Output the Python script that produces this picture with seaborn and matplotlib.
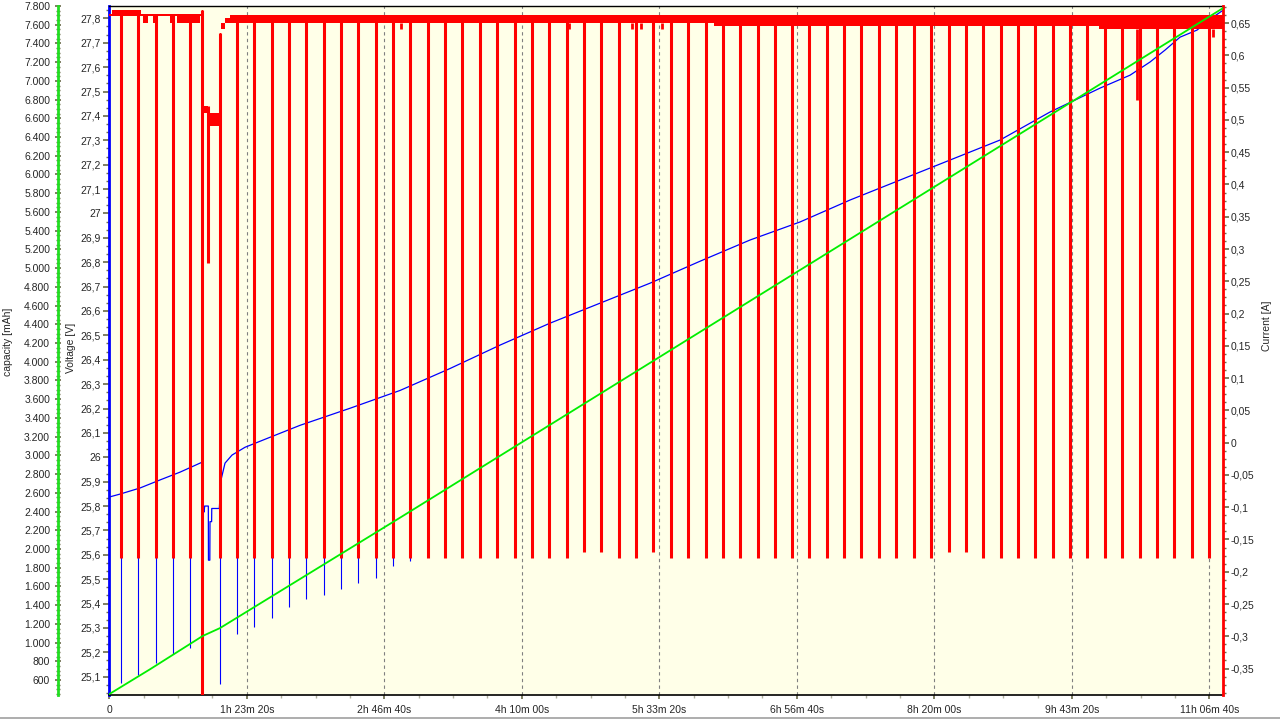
import matplotlib
matplotlib.use("Agg")
import matplotlib.pyplot as plt
import matplotlib.ticker as mticker
from matplotlib.lines import Line2D
import numpy as np
import seaborn as sns

# --- data (time in seconds) ---

# voltage curve [V]
volt_t = [0, 389, 1116, 1843, 2571, 3298, 3381, 3389, 3430, 3440, 3470, 3600,
          3605, 3655, 3661, 3720, 3725, 4000, 4061, 4207, 4461, 4934, 5843,
          6934, 8752, 10570, 12388, 14206, 16025, 17843, 19661, 21479, 23297,
          25115, 26933, 28751, 30569, 32387, 34205, 36023, 37114, 37841,
          38387, 38932, 39550, 40132, 40505]
volt_v = [25.837, 25.849, 25.874, 25.907, 25.939, 25.976, 25.980, 25.800,
          25.800, 25.775, 25.800, 25.800, 25.578, 25.578, 25.736, 25.736,
          25.790, 25.790, 25.907, 25.976, 26.009, 26.041, 26.082, 26.131,
          26.201, 26.274, 26.364, 26.460, 26.550, 26.632, 26.714, 26.804,
          26.891, 26.965, 27.055, 27.137, 27.219, 27.301, 27.416, 27.514,
          27.567, 27.621, 27.670, 27.723, 27.752, 27.805, 27.834]

# voltage drops during the early pulses [V]
vdip_t = [425, 1044, 1680, 2316, 2934, 4025, 4643, 5261, 5915, 6534, 7152,
          7806, 8424, 9043, 9697, 10305, 10934]
vdip_v = [25.075, 25.108, 25.157, 25.194, 25.218, 25.071, 25.276, 25.305,
          25.341, 25.387, 25.417, 25.435, 25.459, 25.485, 25.506, 25.554,
          25.576]

# charge current band [A] (steps)
band_t = [0, 100, 1150, 1230, 1410, 1590, 1770, 2210, 2320, 2460, 3300, 3370,
          3390, 3590, 4010, 4060, 4210, 4390, 22000, 36000, 40505]
band_lo = [0.661, 0.661, 0.661, 0.650, 0.661, 0.650, 0.661, 0.650, 0.661,
           0.650, 0.661, 0.661, 0.511, 0.490, 0.615, 0.641, 0.650, 0.650,
           0.646, 0.641, 0.641]
band_hi = [0.664, 0.671, 0.664, 0.664, 0.664, 0.664, 0.664, 0.664, 0.664,
           0.664, 0.664, 0.671, 0.522, 0.511, 0.635, 0.650, 0.658, 0.663,
           0.663, 0.663, 0.663]

# current pulses [A]
pulse_t = [425, 1044, 1680, 2316, 2934, 3382, 3578, 4025, 4643, 5261, 5915,
           6534, 7152, 7806, 8424, 9043, 9697, 10305, 10934, 11589, 12207,
           12835, 13468, 14097, 14741, 15359, 15988, 16631, 17249, 17867,
           18522, 19151, 19780, 20424, 21042, 21685, 22303, 22921, 23576,
           24194, 24823, 25452, 26085, 26703, 27343, 27975, 28615, 29259,
           29877, 30521, 31150, 31768, 32412, 33030, 33659, 34302, 34931,
           35549, 36193, 36822, 37465, 38083, 38712, 39366, 39974]
pulse_i = [-0.179, -0.179, -0.179, -0.179, -0.179, -0.45, 0.279, -0.179,
           -0.179, -0.179, -0.179, -0.179, -0.179, -0.179, -0.179, -0.179,
           -0.179, -0.179, -0.179, -0.179, -0.179, -0.179, -0.179, -0.179,
           -0.179, -0.179, -0.179, -0.179, -0.170, -0.170, -0.179, -0.179,
           -0.170, -0.179, -0.179, -0.179, -0.179, -0.179, -0.179, -0.179,
           -0.179, -0.179, -0.179, -0.179, -0.179, -0.179, -0.179, -0.179,
           -0.179, -0.170, -0.170, -0.179, -0.179, -0.179, -0.179, -0.179,
           -0.179, -0.179, -0.179, -0.179, -0.179, -0.179, -0.179, -0.179,
           -0.179]

# small current dips [A]
dip_t = [10600, 15970, 16700, 18520, 18990, 19160, 19350, 20100, 37370, 40140]
dip_i = [0.641, 0.641, 0.641, 0.641, 0.641, 0.641, 0.641, 0.641, 0.531, 0.629]

# capacity [mAh]
cap_t = [0, 1480, 3390, 4025, 10570, 40505]
cap_v = [450, 715, 1070, 1155, 2334, 7779]

x_ticks = [0, 5000, 10000, 15000, 20000, 25000, 30000, 35000, 40000]
x_labels = ["0", "1h 23m 20s", "2h 46m 40s", "4h 10m 00s", "5h 33m 20s",
            "6h 56m 40s", "8h 20m 00s", "9h 43m 20s", "11h 06m 40s"]
volt_ticks = np.round(np.arange(25.1, 27.85, 0.1), 1)
cur_ticks = np.round(np.arange(-0.35, 0.66, 0.05), 2)
cap_ticks = np.arange(600, 7801, 200)

# --- figure ---
sns.set_theme(style="white")
plt.rcParams["font.family"] = ["Liberation Sans", "DejaVu Sans"]

BLUE = "#0000FF"
RED = "#FF0000"
GREEN = "#22DD22"
TICKC = "#707050"

fig = plt.figure(figsize=(12.8, 7.2), dpi=100, facecolor="white")
ax = fig.add_axes([0.0854, 0.0347, 0.8703, 0.9574])
ax.set_facecolor("#FFFFE8")
ax.set_xlim(0, 40505)
ax.set_ylim(25.025, 27.852)

ax_cur = ax.twinx()
ax_cur.set_ylim(-0.391, 0.677)
ax_cap = ax.twinx()
ax_cap.set_ylim(440, 7803)

# grid
ax.xaxis.grid(True, linestyle=(0, (3, 3)), color="#808080", linewidth=0.8)
ax.yaxis.grid(False)
ax_cur.grid(False)
ax_cap.grid(False)

# voltage
sns.lineplot(x=volt_t, y=volt_v, ax=ax, color=BLUE, linewidth=0.9,
             sort=False, estimator=None)
ax.vlines(vdip_t, vdip_v, np.interp(vdip_t, volt_t, volt_v),
          color=BLUE, linewidth=0.8)

# current
ax_cur.fill_between(band_t, band_lo, band_hi, step="post", color=RED,
                    linewidth=0)
idx = np.searchsorted(band_t, pulse_t, side="right") - 1
pulse_top = np.array(band_hi)[idx]
ax_cur.vlines(pulse_t, pulse_i, pulse_top, color=RED, linewidth=2.2)
idx = np.searchsorted(band_t, dip_t, side="right") - 1
ax_cur.vlines(dip_t, dip_i, np.array(band_lo)[idx], color=RED, linewidth=2.0)

# capacity
sns.lineplot(x=cap_t, y=cap_v, ax=ax_cap, color="#00EE00", linewidth=1.3,
             sort=False, estimator=None)

# x axis
ax.xaxis.set_major_locator(mticker.FixedLocator(x_ticks))
ax.xaxis.set_major_formatter(mticker.FixedFormatter(x_labels))
ax.xaxis.set_minor_locator(mticker.AutoMinorLocator(4))
ax.tick_params(axis="x", which="major", direction="out", length=3,
               color=TICKC, pad=4, labelsize=7.5, bottom=True)
ax.tick_params(axis="x", which="minor", direction="out", length=2,
               color="#B0B0A0", bottom=True)
ax.set_xlabel("")


def fmt_comma(v, _pos=None):
    s = f"{v:.2f}".rstrip("0").rstrip(".")
    if s in ("-0", "-0."):
        s = "0"
    return s.replace(".", ",")


def fmt_cap(v, _pos=None):
    return f"{v:,.0f}".replace(",", ".")


# voltage axis
ax.yaxis.set_major_locator(mticker.FixedLocator(volt_ticks))
ax.yaxis.set_major_formatter(mticker.FuncFormatter(fmt_comma))
ax.yaxis.set_minor_locator(mticker.AutoMinorLocator(3))
ax.tick_params(axis="y", which="major", direction="out", length=4,
               color=TICKC, pad=2, labelsize=7.5, left=True)
ax.tick_params(axis="y", which="minor", direction="out", length=2,
               color=TICKC, left=True)
ax.set_ylabel("")

# current axis
ax_cur.yaxis.set_major_locator(mticker.FixedLocator(cur_ticks))
ax_cur.yaxis.set_major_formatter(mticker.FuncFormatter(fmt_comma))
ax_cur.yaxis.set_minor_locator(mticker.AutoMinorLocator(4))
ax_cur.tick_params(axis="y", which="major", direction="out", length=4,
                   color=TICKC, pad=1, labelsize=7.5, right=True)
ax_cur.tick_params(axis="y", which="minor", direction="out", length=2,
                   color=TICKC, right=True)
ax_cur.set_ylabel("")

# capacity axis
ax_cap.spines["left"].set_position(("axes", -0.0463))
ax_cap.yaxis.set_ticks_position("left")
ax_cap.yaxis.set_label_position("left")
ax_cap.yaxis.set_major_locator(mticker.FixedLocator(cap_ticks))
ax_cap.yaxis.set_major_formatter(mticker.FuncFormatter(fmt_cap))
ax_cap.yaxis.set_minor_locator(mticker.AutoMinorLocator(4))
ax_cap.tick_params(axis="y", which="major", direction="inout", length=5,
                   color=TICKC, pad=3, labelsize=7.5, left=True)
ax_cap.tick_params(axis="y", which="minor", direction="inout", length=3,
                   color=TICKC, left=True)
ax_cap.set_ylabel("")

# spines
for s in ("top", "bottom", "left", "right"):
    ax.spines[s].set_visible(False)
    ax_cur.spines[s].set_visible(False)
    ax_cap.spines[s].set_visible(False)
ax.spines["top"].set_visible(True)
ax.spines["top"].set_color("black")
ax.spines["top"].set_linewidth(1.0)
ax.spines["bottom"].set_visible(True)
ax.spines["bottom"].set_color("black")
ax.spines["bottom"].set_linewidth(1.2)
ax.spines["left"].set_visible(True)
ax.spines["left"].set_color(BLUE)
ax.spines["left"].set_linewidth(2.0)
ax_cur.spines["right"].set_visible(True)
ax_cur.spines["right"].set_color(RED)
ax_cur.spines["right"].set_linewidth(2.0)
ax_cap.spines["left"].set_visible(True)
ax_cap.spines["left"].set_color(GREEN)
ax_cap.spines["left"].set_linewidth(2.0)

# axis titles
fig.text(8 / 1280, 1 - 342 / 720, "capacity [mAh]", rotation=90,
         ha="center", va="center", fontsize=7.5)
fig.text(71 / 1280, 1 - 348 / 720, "Voltage [V]", rotation=90,
         ha="center", va="center", fontsize=7.5)
fig.text(1267 / 1280, 1 - 326 / 720, "Current [A]", rotation=90,
         ha="center", va="center", fontsize=7.5)

# window border at the bottom
fig.add_artist(Line2D([0, 1], [0.0025, 0.0025], color="#A0A0A0",
                      linewidth=1.2, transform=fig.transFigure))

fig.savefig("out.png", dpi=100, facecolor="white")
